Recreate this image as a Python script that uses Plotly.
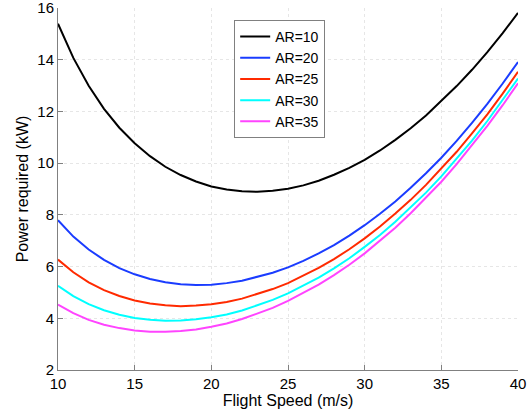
import plotly.graph_objects as go

# Flight speed (m/s) and power required (kW) per aspect ratio
speed = list(range(10, 41))
power_ar10 = [15.39, 14.07, 12.99, 12.10, 11.37, 10.77, 10.27, 9.86, 9.54, 9.29,
              9.10, 8.98, 8.91, 8.89, 8.93, 9.01, 9.14, 9.32, 9.55, 9.82,
              10.13, 10.49, 10.90, 11.35, 11.84, 12.39, 12.98, 13.61, 14.29, 15.03,
              15.81]
power_ar20 = [7.79, 7.16, 6.66, 6.26, 5.94, 5.70, 5.52, 5.39, 5.32, 5.29,
              5.30, 5.36, 5.45, 5.59, 5.76, 5.97, 6.22, 6.51, 6.83, 7.20,
              7.60, 8.04, 8.52, 9.05, 9.61, 10.21, 10.86, 11.56, 12.29, 13.08,
              13.91]
power_ar25 = [6.27, 5.78, 5.39, 5.09, 4.86, 4.69, 4.57, 4.50, 4.47, 4.49,
              4.54, 4.63, 4.76, 4.93, 5.13, 5.36, 5.64, 5.95, 6.29, 6.67,
              7.09, 7.55, 8.05, 8.58, 9.16, 9.78, 10.44, 11.15, 11.89, 12.69,
              13.53]
power_ar30 = [5.26, 4.86, 4.55, 4.31, 4.14, 4.01, 3.94, 3.90, 3.91, 3.96,
              4.04, 4.15, 4.30, 4.49, 4.71, 4.96, 5.25, 5.57, 5.93, 6.32,
              6.76, 7.22, 7.73, 8.28, 8.86, 9.49, 10.16, 10.87, 11.63, 12.43,
              13.27]
power_ar35 = [4.53, 4.20, 3.94, 3.75, 3.62, 3.53, 3.48, 3.48, 3.51, 3.57,
              3.67, 3.80, 3.97, 4.17, 4.40, 4.67, 4.97, 5.30, 5.67, 6.07,
              6.51, 6.99, 7.50, 8.06, 8.65, 9.28, 9.96, 10.68, 11.44, 12.24,
              13.09]

series = [
    ("AR=10", power_ar10, "#000000"),
    ("AR=20", power_ar20, "#1a3cff"),
    ("AR=25", power_ar25, "#ff2a00"),
    ("AR=30", power_ar30, "#00ffff"),
    ("AR=35", power_ar35, "#ff44ff"),
]

FONT = "Liberation Sans, Arial, Helvetica, sans-serif"

fig = go.Figure()
for name, vals, color in series:
    fig.add_trace(go.Scatter(
        x=speed, y=vals, mode="lines", name=name,
        line=dict(color=color, width=2)))

axis_common = dict(
    showline=True, linecolor="#808080", linewidth=1,
    ticks="inside", ticklen=5, tickcolor="#808080", tickwidth=1,
    showgrid=True, gridcolor="#e6e6e6", gridwidth=1, griddash="3px,3px",
    zeroline=False, mirror=False, automargin=False,
    ticklabeloverflow="allow",
    tickfont=dict(family=FONT, size=15, color="black"),
)

fig.update_layout(
    width=531, height=414,
    margin=dict(l=58, r=13, t=8, b=44),
    paper_bgcolor="white", plot_bgcolor="white",
    font=dict(family=FONT, color="black"),
    xaxis=dict(range=[10, 40], dtick=5, tick0=10,
               title=dict(text="Flight Speed (m/s)", font=dict(size=16), standoff=0),
               **axis_common),
    yaxis=dict(range=[2, 16], dtick=2, tick0=2,
               title=dict(text="Power required (kW)", font=dict(size=16), standoff=4),
               **axis_common),
    legend=dict(x=0.383, xanchor="left", y=0.967, yanchor="top",
                bgcolor="white", bordercolor="#808080", borderwidth=1,
                font=dict(family=FONT, size=14, color="black"),
                entrywidth=62, tracegroupgap=0),
    showlegend=True,
)

# page without the browser's default body margin, so the figure fills the window
fig.write_html("out.html", config={"displayModeBar": False},
               post_script="document.body.style.margin='0';")
